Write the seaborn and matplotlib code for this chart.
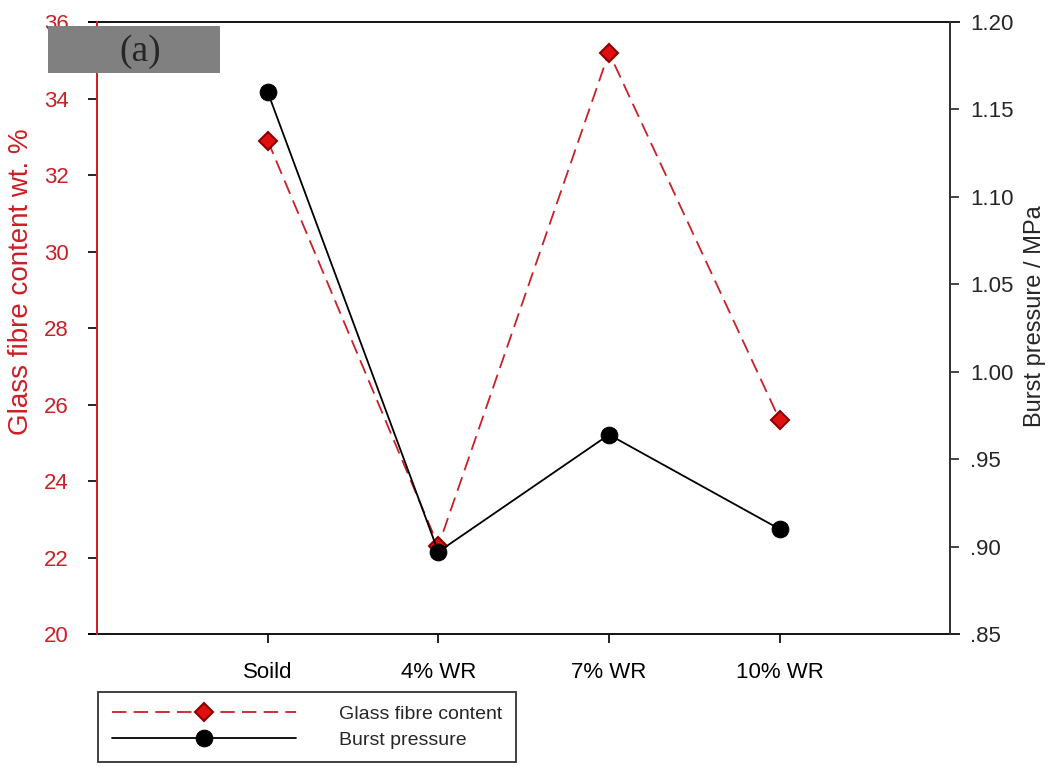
import matplotlib
matplotlib.use("Agg")
import matplotlib.pyplot as plt
import seaborn as sns
import pandas as pd

# Data
samples = ["Soild", "4% WR", "7% WR", "10% WR"]
fibre_content = [32.9, 22.3, 35.2, 25.6]          # wt. %
burst_pressure = [1.160, 0.897, 0.964, 0.910]     # MPa
left_ticks = [20, 22, 24, 26, 28, 30, 32, 34, 36]
right_ticks = [0.85, 0.90, 0.95, 1.00, 1.05, 1.10, 1.15, 1.20]
right_labels = [".85", ".90", ".95", "1.00", "1.05", "1.10", "1.15", "1.20"]

sns.set_style("ticks")
plt.rcParams["font.family"] = ["Liberation Sans", "DejaVu Sans"]

RED = "#cc1f26"
pos = list(range(1, len(samples) + 1))
df = pd.DataFrame({"pos": pos, "sample": samples,
                   "fibre": fibre_content, "burst": burst_pressure})

fig = plt.figure(figsize=(10.57, 7.67), dpi=100)
ax = fig.add_axes([0.0918, 0.1734, 0.8072, 0.7979])
ax2 = ax.twinx()

sns.lineplot(data=df, x="pos", y="fibre", ax=ax, color=RED, lw=1.3,
             linestyle=(0, (8, 4)), marker="D", markersize=9,
             markerfacecolor="#e01010", markeredgecolor="#8c0000",
             markeredgewidth=1.5, label="Glass fibre content", legend=False)
sns.lineplot(data=df, x="pos", y="burst", ax=ax2, color="black", lw=1.3,
             marker="o", markersize=12, markerfacecolor="black",
             markeredgecolor="black", label="Burst pressure", legend=False)

ax.set_xlim(0, len(samples) + 1)
ax.set_ylim(20, 36)
ax2.set_ylim(0.85, 1.20)
ax.set_xticks(pos)
ax.set_xticklabels(samples, fontsize=16)
ax.set_yticks(left_ticks)
ax.set_yticklabels([str(t) for t in left_ticks], fontsize=16, color=RED)
ax2.set_yticks(right_ticks)
ax2.set_yticklabels(right_labels, fontsize=16)
ax.set_xlabel("")
ax.set_ylabel("Glass fibre content wt. %", fontsize=20, color=RED)
ax.yaxis.set_label_coords(-0.074, 0.575)
ax2.set_ylabel("Burst pressure / MPa", fontsize=17)
ax2.yaxis.set_label_coords(1.086, 0.52)

ax.tick_params(axis="both", direction="out", length=6.5, width=1.2, colors="black")
ax.tick_params(axis="y", labelcolor=RED, pad=14)
ax.tick_params(axis="x", pad=14)
ax2.tick_params(axis="y", direction="out", length=6.5, width=1.2, pad=8)

for a in (ax, ax2):
    for s in a.spines.values():
        s.set_visible(True)
        s.set_linewidth(1.3)
        s.set_color("black")
ax2.spines["top"].set_visible(False)
ax2.spines["bottom"].set_visible(False)
ax.spines["left"].set_color(RED)
ax2.spines["left"].set_color(RED)
ax.spines["right"].set_color("#333333")
ax2.spines["right"].set_color("#333333")
# frame lines run a little past the side axes
ax.spines["bottom"].set_bounds(-0.05, len(samples) + 1.05)
ax.spines["top"].set_bounds(-0.05, len(samples) + 1.05)

# Panel tag
fig.patches.append(plt.Rectangle((48 / 1057, 1 - 73 / 767), 172 / 1057, 47 / 767,
                                 transform=fig.transFigure, facecolor="#808080",
                                 edgecolor="none", zorder=10))
fig.text(140 / 1057, 1 - 52 / 767, "(a)", fontsize=27, family="Liberation Serif",
         ha="center", va="center", zorder=11)

# Legend below the plot
h1, l1 = ax.get_legend_handles_labels()
h2, l2 = ax2.get_legend_handles_labels()
leg = fig.legend(h1 + h2, l1 + l2, loc="upper left",
                 bbox_to_anchor=(98 / 1057, 1 - 692 / 767),
                 bbox_transform=fig.transFigure, fontsize=14, frameon=True,
                 fancybox=False, edgecolor="black", handlelength=9.5,
                 handletextpad=2.2, borderpad=0.7, labelspacing=0.4,
                 borderaxespad=0)
leg.get_frame().set_linewidth(1.3)

fig.savefig("out.png", dpi=100)
